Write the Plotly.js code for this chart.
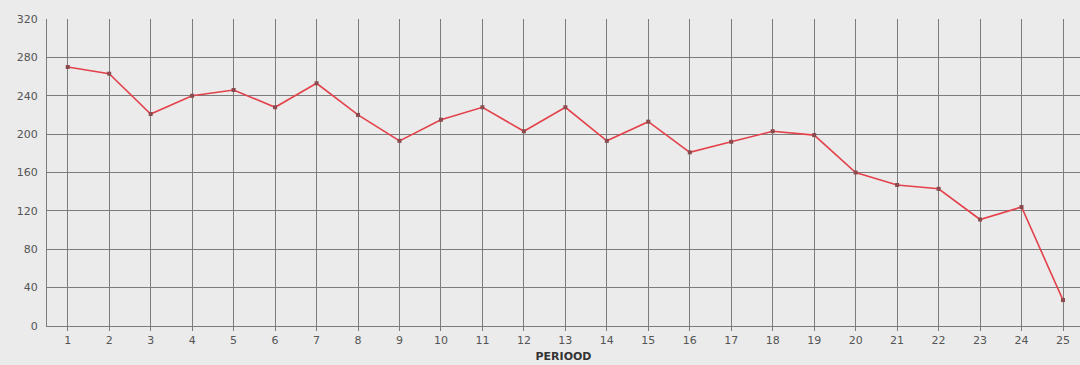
<!DOCTYPE html>
<html>
<head>
<meta charset="utf-8">
<script src="https://cdn.plot.ly/plotly-3.0.1.min.js"></script>
<style>html,body{margin:0;padding:0;background:#ebebeb;}#chart{width:1080px;height:365px;}</style>
</head>
<body>
<div id="chart"></div>
<script>
const periods = [1,2,3,4,5,6,7,8,9,10,11,12,13,14,15,16,17,18,19,20,21,22,23,24,25];
const values = [270,263,221,240,246,228,253,220,193,215,228,203,228,193,213,181,192,203,199,160,147,143,111,124,27];
const yTicks = [0,40,80,120,160,200,240,280,320];
const xTitle = "PERIOOD";

Plotly.newPlot('chart', [{
  x: periods, y: values, type: 'scatter', mode: 'lines+markers',
  line: {color: '#e3424b', width: 1.6},
  marker: {color: '#8a4a4e', size: 4, symbol: 'square'},
  hoverinfo: 'x+y'
}], {
  width: 1080, height: 365,
  margin: {l: 47, r: 0, t: 19, b: 39},
  paper_bgcolor: '#ebebeb', plot_bgcolor: '#ebebeb',
  showlegend: false,
  font: {family: 'DejaVu Sans, sans-serif', size: 11, color: '#555'},
  xaxis: {
    range: [0.5, 25.41], tickvals: periods, ticktext: periods.map(String),
    showgrid: true, gridcolor: '#7c7c7c', gridwidth: 1,
    showline: true, linecolor: '#7c7c7c', linewidth: 1,
    ticks: 'outside', ticklen: 4, tickcolor: '#7c7c7c', zeroline: false,
    tickfont: {size: 11, color: '#555'},
    title: {text: xTitle, font: {size: 11, color: '#333', family: 'DejaVu Sans, sans-serif', weight: 'bold'}, standoff: 6}
  },
  yaxis: {
    range: [0, 320], tickvals: yTicks, ticktext: yTicks.map(String),
    showgrid: true, gridcolor: '#7c7c7c', gridwidth: 1,
    showline: true, linecolor: '#7c7c7c', linewidth: 1, mirror: true,
    ticks: '', zeroline: false, ticklabelstandoff: 6,
    tickfont: {size: 11, color: '#555'}
  }
}, {displayModeBar: false, staticPlot: true});
</script>
</body>
</html>
